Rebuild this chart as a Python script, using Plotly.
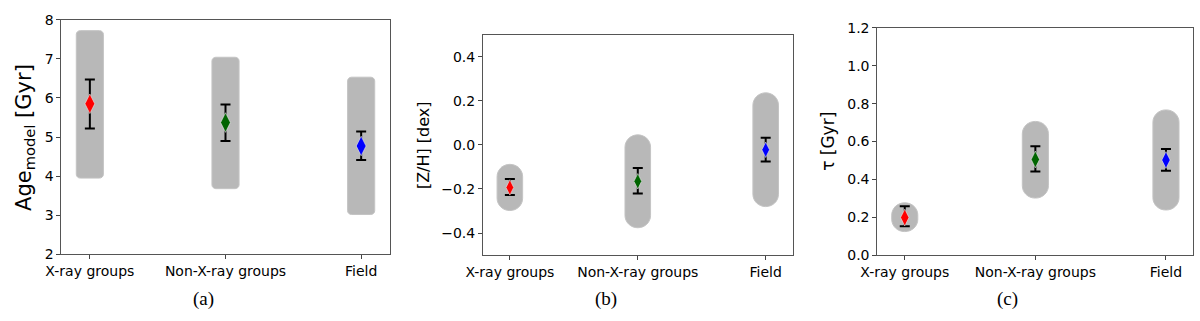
import plotly.graph_objects as go
from plotly.subplots import make_subplots

# ---------------------------------------------------------------- data
groups = ['X-ray groups', 'Non-X-ray groups', 'Field']
colors = ['red', 'darkgreen', 'blue']

age_val = [5.85, 5.37, 4.77]
age_err_hi = [0.62, 0.46, 0.37]
age_err_lo = [0.63, 0.47, 0.36]
age_band_lo = [3.95, 3.68, 3.02]
age_band_hi = [7.72, 7.04, 6.53]

zh_val = [-0.193, -0.165, -0.022]
zh_err_hi = [0.038, 0.060, 0.055]
zh_err_lo = [0.034, 0.056, 0.053]
zh_band_lo = [-0.298, -0.376, -0.280]
zh_band_hi = [-0.088, 0.046, 0.237]

tau_val = [0.198, 0.505, 0.502]
tau_err_hi = [0.060, 0.070, 0.058]
tau_err_lo = [0.046, 0.064, 0.056]
tau_band_lo = [0.124, 0.301, 0.238]
tau_band_hi = [0.276, 0.706, 0.767]

W, H = 1200, 321
XR = [-0.21, 2.21]
BAR_HALF = 0.1

panels = [
    dict(val=age_val, ehi=age_err_hi, elo=age_err_lo, blo=age_band_lo, bhi=age_band_hi,
         yr=[2, 8], dtick=1, fmt='d', title='Age<sub>model</sub> [Gyr]', tsize=21, rad=4,
         xd=[45, 378], yd=[12.3, 259.3], cap='(a)', capx=189, titlex=8, msize=14),
    dict(val=zh_val, ehi=zh_err_hi, elo=zh_err_lo, blo=zh_band_lo, bhi=zh_band_hi,
         yr=[-0.5, 0.5], dtick=0.2, fmt='.1f', title='[Z/H] [dex]', tsize=16, rad=13,
         xd=[472.7, 786.7], yd=[28.3, 260], cap='(b)', capx=597, titlex=413, msize=11),
    dict(val=tau_val, ehi=tau_err_hi, elo=tau_err_lo, blo=tau_band_lo, bhi=tau_band_hi,
         yr=[0, 1.2], dtick=0.2, fmt='.1f', title='τ [Gyr]', tsize=17, rad=13,
         xd=[872.7, 1193.3], yd=[21, 260], cap='(c)', capx=1005, titlex=823, msize=12),
]


def rounded_bar(c, y0, y1, rx, ry):
    k = 0.5523
    x0, x1 = c - BAR_HALF, c + BAR_HALF
    return (f"M {x0},{y0+ry} L {x0},{y1-ry} "
            f"C {x0},{y1-ry+k*ry} {x0+rx-k*rx},{y1} {x0+rx},{y1} "
            f"L {x1-rx},{y1} "
            f"C {x1-rx+k*rx},{y1} {x1},{y1-ry+k*ry} {x1},{y1-ry} "
            f"L {x1},{y0+ry} "
            f"C {x1},{y0+ry-k*ry} {x1-rx+k*rx},{y0} {x1-rx},{y0} "
            f"L {x0+rx},{y0} "
            f"C {x0+rx-k*rx},{y0} {x0},{y0+ry-k*ry} {x0},{y0+ry} Z")


fig = make_subplots(rows=1, cols=3)

for i, p in enumerate(panels):
    n = i + 1
    xa = 'x' if n == 1 else f'x{n}'
    ya = 'y' if n == 1 else f'y{n}'
    px_x = (p['xd'][1] - p['xd'][0]) / (XR[1] - XR[0])
    px_y = (p['yd'][1] - p['yd'][0]) / (p['yr'][1] - p['yr'][0])
    rx = min(p['rad'] / px_x, BAR_HALF)
    for j in range(len(groups)):
        ry = min(p['rad'] / px_y, (p['bhi'][j] - p['blo'][j]) / 2)
        fig.add_shape(type='path', path=rounded_bar(j, p['blo'][j], p['bhi'][j], rx, ry),
                      xref=xa, yref=ya, fillcolor='#b8b8b8',
                      line=dict(color='#c4c4c4', width=1), layer='below')

    fig.add_trace(go.Scatter(
        x=list(range(len(groups))), y=p['val'], mode='markers',
        marker=dict(symbol='diamond-tall', size=p['msize'], color=colors,
                    line=dict(color='#e8e8e8', width=0.6)),
        error_y=dict(type='data', symmetric=False, array=p['ehi'], arrayminus=p['elo'],
                     color='black', thickness=2, width=5),
        showlegend=False), row=1, col=n)

    fig.update_xaxes(domain=[p['xd'][0] / W, p['xd'][1] / W], range=XR,
                     tickvals=list(range(len(groups))), ticktext=groups,
                     ticks='outside', ticklen=4, tickcolor='#444',
                     showgrid=False, zeroline=False, showline=True, mirror=True,
                     linecolor='#555', linewidth=1,
                     tickfont=dict(family='DejaVu Sans', size=14, color='black'),
                     row=1, col=n)
    fig.update_yaxes(domain=[1 - p['yd'][1] / H, 1 - p['yd'][0] / H], range=p['yr'],
                     dtick=p['dtick'], tick0=0, tickformat=p['fmt'],
                     ticks='outside', ticklen=4, tickcolor='#444',
                     showgrid=False, zeroline=False, showline=True, mirror=True,
                     linecolor='#555', linewidth=1,
                     tickfont=dict(family='DejaVu Sans', size=14, color='black'),
                     row=1, col=n)

    # y-axis title placed directly so it sits where the reference has it
    fig.add_annotation(text=p['title'], textangle=-90, x=p['titlex'] / W,
                       y=1 - (p['yd'][0] + p['yd'][1]) / 2 / H, xref='paper', yref='paper',
                       xanchor='center', yanchor='middle', showarrow=False,
                       font=dict(family='DejaVu Sans', size=p['tsize'], color='black'))

    fig.add_annotation(text=p['cap'], x=p['capx'] / W, y=1 - 306 / H, xref='paper', yref='paper',
                       xanchor='center', yanchor='middle', showarrow=False,
                       font=dict(family='Liberation Serif', size=19, color='black'))

fig.update_layout(width=W, height=H, margin=dict(l=0, r=0, t=0, b=0),
                  plot_bgcolor='white', paper_bgcolor='white', showlegend=False)

# body has a default 8px margin; drop it so the figure fits the window exactly
fig.write_html("out.html", config={'displayModeBar': False},
               post_script="document.body.style.margin='0';")
